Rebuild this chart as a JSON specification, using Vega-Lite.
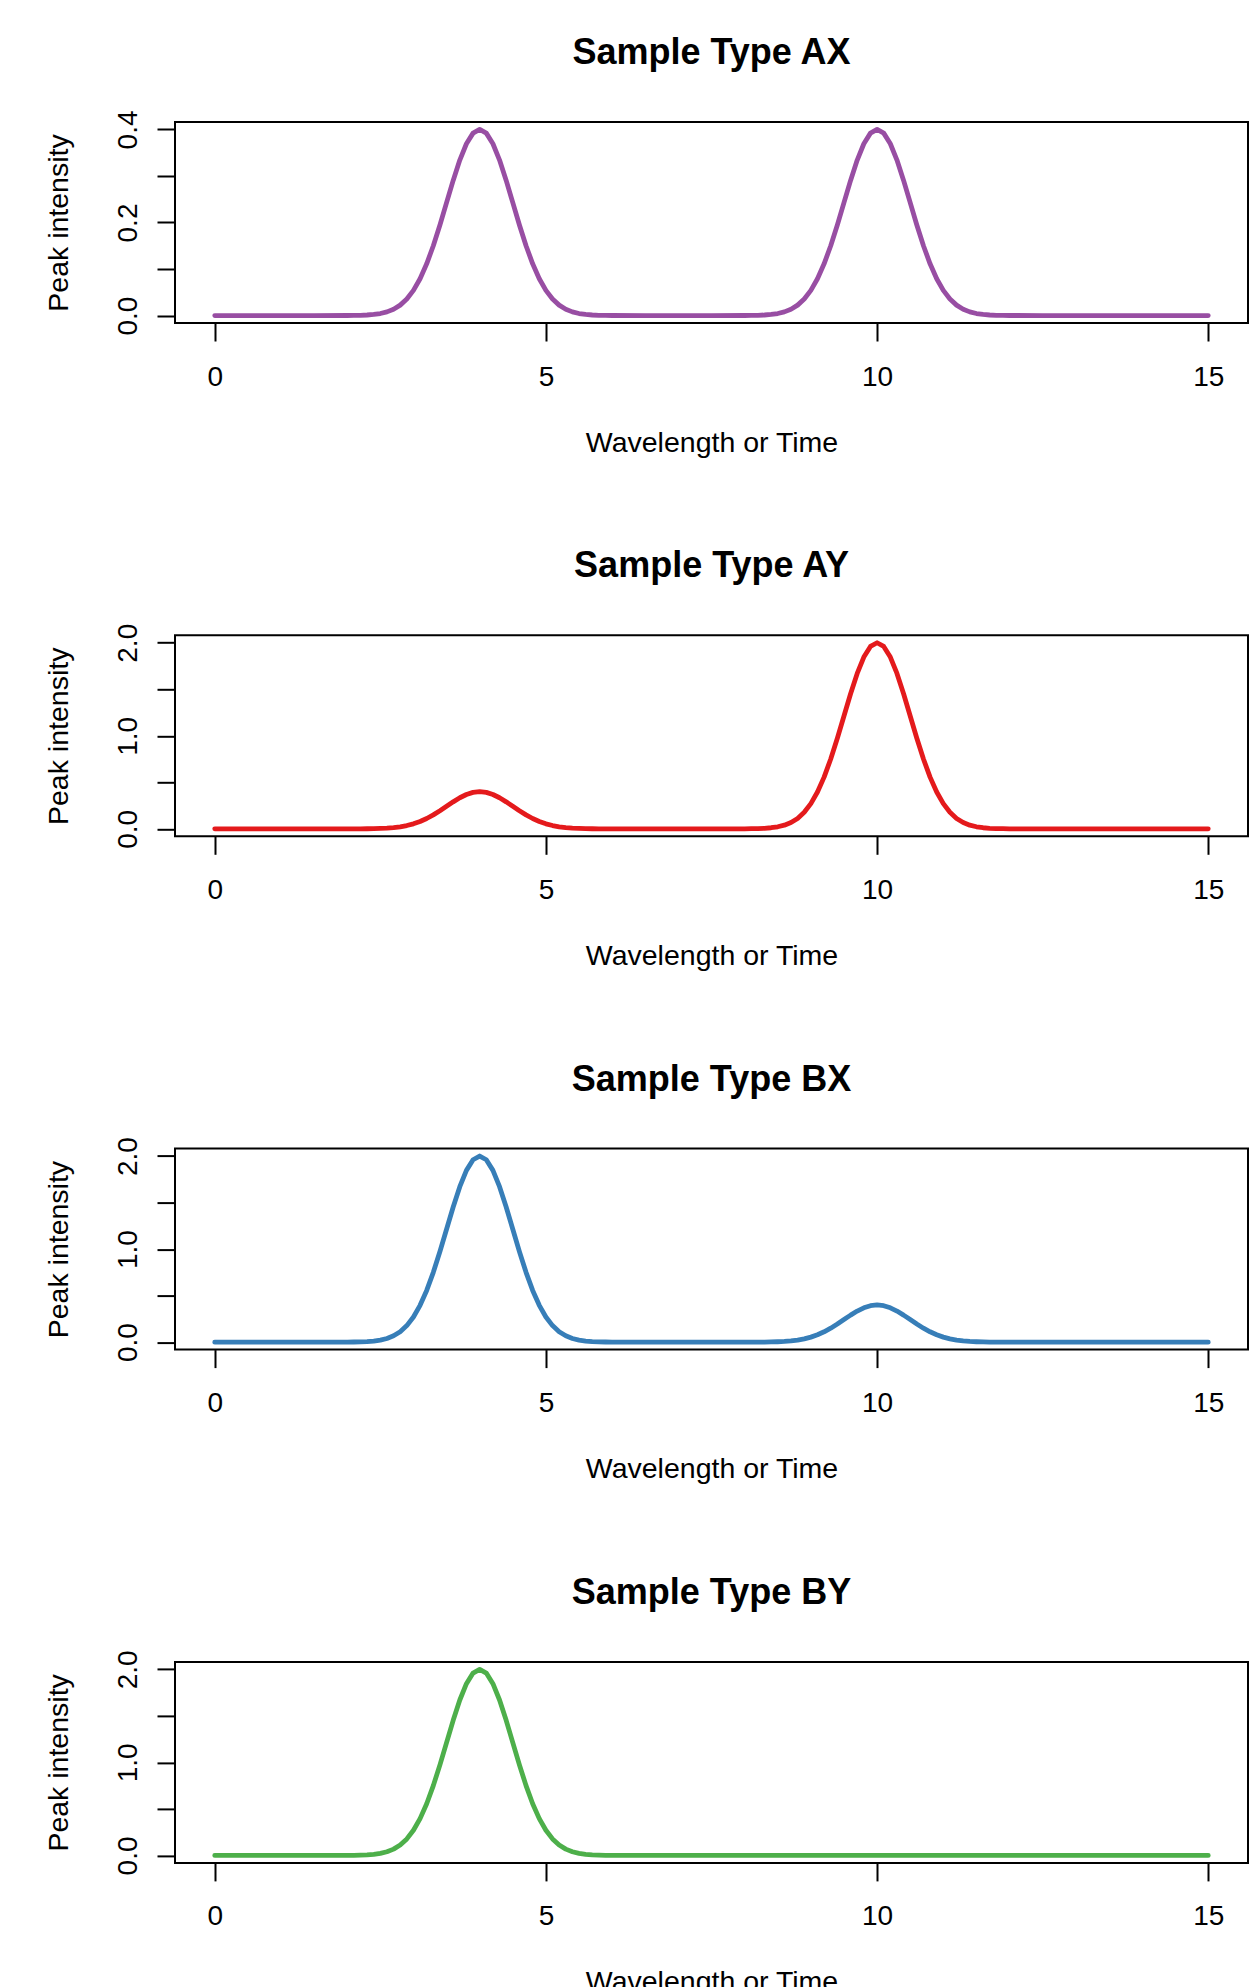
{
  "$schema": "https://vega.github.io/schema/vega-lite/v6.json",
  "background": "white",
  "padding": {"left": 43, "top": 33, "right": 6, "bottom": 0},
  "bounds": "flush",
  "spacing": 312.3,
  "datasets": {
    "peaks": [
      {"x": 0, "AX": 0, "AY": 0, "BX": 0, "BY": 0},
      {"x": 0.5, "AX": 0, "AY": 0, "BX": 0, "BY": 0},
      {"x": 1, "AX": 0, "AY": 0, "BX": 0, "BY": 0},
      {"x": 1.5, "AX": 0, "AY": 0, "BX": 0, "BY": 0},
      {"x": 2.0, "AX": 0.0001, "AY": 0.0001, "BX": 0.0007, "BY": 0.0007},
      {"x": 2.1, "AX": 0.0003, "AY": 0.0003, "BX": 0.0015, "BY": 0.0015},
      {"x": 2.2, "AX": 0.0006, "AY": 0.0006, "BX": 0.0031, "BY": 0.0031},
      {"x": 2.3, "AX": 0.0012, "AY": 0.0012, "BX": 0.0062, "BY": 0.0062},
      {"x": 2.4, "AX": 0.0024, "AY": 0.0024, "BX": 0.0120, "BY": 0.0120},
      {"x": 2.5, "AX": 0.0044, "AY": 0.0044, "BX": 0.0222, "BY": 0.0222},
      {"x": 2.6, "AX": 0.0079, "AY": 0.0079, "BX": 0.0397, "BY": 0.0397},
      {"x": 2.7, "AX": 0.0136, "AY": 0.0136, "BX": 0.0680, "BY": 0.0680},
      {"x": 2.8, "AX": 0.0224, "AY": 0.0224, "BX": 0.1122, "BY": 0.1122},
      {"x": 2.9, "AX": 0.0356, "AY": 0.0356, "BX": 0.1778, "BY": 0.1778},
      {"x": 3.0, "AX": 0.0541, "AY": 0.0541, "BX": 0.2707, "BY": 0.2707},
      {"x": 3.1, "AX": 0.0792, "AY": 0.0792, "BX": 0.3958, "BY": 0.3958},
      {"x": 3.2, "AX": 0.1112, "AY": 0.1112, "BX": 0.5559, "BY": 0.5559},
      {"x": 3.3, "AX": 0.1501, "AY": 0.1501, "BX": 0.7506, "BY": 0.7506},
      {"x": 3.4, "AX": 0.1947, "AY": 0.1947, "BX": 0.9735, "BY": 0.9735},
      {"x": 3.5, "AX": 0.2426, "AY": 0.2426, "BX": 1.2131, "BY": 1.2131},
      {"x": 3.6, "AX": 0.2904, "AY": 0.2904, "BX": 1.4522, "BY": 1.4522},
      {"x": 3.7, "AX": 0.3341, "AY": 0.3341, "BX": 1.6706, "BY": 1.6706},
      {"x": 3.8, "AX": 0.3692, "AY": 0.3692, "BX": 1.8462, "BY": 1.8462},
      {"x": 3.9, "AX": 0.3921, "AY": 0.3921, "BX": 1.9604, "BY": 1.9604},
      {"x": 4.0, "AX": 0.4, "AY": 0.4, "BX": 2.0, "BY": 2.0},
      {"x": 4.1, "AX": 0.3921, "AY": 0.3921, "BX": 1.9604, "BY": 1.9604},
      {"x": 4.2, "AX": 0.3692, "AY": 0.3692, "BX": 1.8462, "BY": 1.8462},
      {"x": 4.3, "AX": 0.3341, "AY": 0.3341, "BX": 1.6706, "BY": 1.6706},
      {"x": 4.4, "AX": 0.2904, "AY": 0.2904, "BX": 1.4522, "BY": 1.4522},
      {"x": 4.5, "AX": 0.2426, "AY": 0.2426, "BX": 1.2131, "BY": 1.2131},
      {"x": 4.6, "AX": 0.1947, "AY": 0.1947, "BX": 0.9735, "BY": 0.9735},
      {"x": 4.7, "AX": 0.1501, "AY": 0.1501, "BX": 0.7506, "BY": 0.7506},
      {"x": 4.8, "AX": 0.1112, "AY": 0.1112, "BX": 0.5559, "BY": 0.5559},
      {"x": 4.9, "AX": 0.0792, "AY": 0.0792, "BX": 0.3958, "BY": 0.3958},
      {"x": 5.0, "AX": 0.0541, "AY": 0.0541, "BX": 0.2707, "BY": 0.2707},
      {"x": 5.1, "AX": 0.0356, "AY": 0.0356, "BX": 0.1778, "BY": 0.1778},
      {"x": 5.2, "AX": 0.0224, "AY": 0.0224, "BX": 0.1122, "BY": 0.1122},
      {"x": 5.3, "AX": 0.0136, "AY": 0.0136, "BX": 0.0680, "BY": 0.0680},
      {"x": 5.4, "AX": 0.0079, "AY": 0.0079, "BX": 0.0397, "BY": 0.0397},
      {"x": 5.5, "AX": 0.0044, "AY": 0.0044, "BX": 0.0222, "BY": 0.0222},
      {"x": 5.6, "AX": 0.0024, "AY": 0.0024, "BX": 0.0120, "BY": 0.0120},
      {"x": 5.7, "AX": 0.0012, "AY": 0.0012, "BX": 0.0062, "BY": 0.0062},
      {"x": 5.8, "AX": 0.0006, "AY": 0.0006, "BX": 0.0031, "BY": 0.0031},
      {"x": 5.9, "AX": 0.0003, "AY": 0.0003, "BX": 0.0015, "BY": 0.0015},
      {"x": 6.0, "AX": 0.0001, "AY": 0.0001, "BX": 0.0007, "BY": 0.0007},
      {"x": 6.5, "AX": 0, "AY": 0, "BX": 0, "BY": 0},
      {"x": 7.0, "AX": 0, "AY": 0, "BX": 0, "BY": 0},
      {"x": 7.5, "AX": 0, "AY": 0, "BX": 0, "BY": 0},
      {"x": 8.0, "AX": 0.0001, "AY": 0.0007, "BX": 0.0001, "BY": 0},
      {"x": 8.1, "AX": 0.0003, "AY": 0.0015, "BX": 0.0003, "BY": 0},
      {"x": 8.2, "AX": 0.0006, "AY": 0.0031, "BX": 0.0006, "BY": 0},
      {"x": 8.3, "AX": 0.0012, "AY": 0.0062, "BX": 0.0012, "BY": 0},
      {"x": 8.4, "AX": 0.0024, "AY": 0.0120, "BX": 0.0024, "BY": 0},
      {"x": 8.5, "AX": 0.0044, "AY": 0.0222, "BX": 0.0044, "BY": 0},
      {"x": 8.6, "AX": 0.0079, "AY": 0.0397, "BX": 0.0079, "BY": 0},
      {"x": 8.7, "AX": 0.0136, "AY": 0.0680, "BX": 0.0136, "BY": 0},
      {"x": 8.8, "AX": 0.0224, "AY": 0.1122, "BX": 0.0224, "BY": 0},
      {"x": 8.9, "AX": 0.0356, "AY": 0.1778, "BX": 0.0356, "BY": 0},
      {"x": 9.0, "AX": 0.0541, "AY": 0.2707, "BX": 0.0541, "BY": 0},
      {"x": 9.1, "AX": 0.0792, "AY": 0.3958, "BX": 0.0792, "BY": 0},
      {"x": 9.2, "AX": 0.1112, "AY": 0.5559, "BX": 0.1112, "BY": 0},
      {"x": 9.3, "AX": 0.1501, "AY": 0.7506, "BX": 0.1501, "BY": 0},
      {"x": 9.4, "AX": 0.1947, "AY": 0.9735, "BX": 0.1947, "BY": 0},
      {"x": 9.5, "AX": 0.2426, "AY": 1.2131, "BX": 0.2426, "BY": 0},
      {"x": 9.6, "AX": 0.2904, "AY": 1.4522, "BX": 0.2904, "BY": 0},
      {"x": 9.7, "AX": 0.3341, "AY": 1.6706, "BX": 0.3341, "BY": 0},
      {"x": 9.8, "AX": 0.3692, "AY": 1.8462, "BX": 0.3692, "BY": 0},
      {"x": 9.9, "AX": 0.3921, "AY": 1.9604, "BX": 0.3921, "BY": 0},
      {"x": 10.0, "AX": 0.4, "AY": 2.0, "BX": 0.4, "BY": 0},
      {"x": 10.1, "AX": 0.3921, "AY": 1.9604, "BX": 0.3921, "BY": 0},
      {"x": 10.2, "AX": 0.3692, "AY": 1.8462, "BX": 0.3692, "BY": 0},
      {"x": 10.3, "AX": 0.3341, "AY": 1.6706, "BX": 0.3341, "BY": 0},
      {"x": 10.4, "AX": 0.2904, "AY": 1.4522, "BX": 0.2904, "BY": 0},
      {"x": 10.5, "AX": 0.2426, "AY": 1.2131, "BX": 0.2426, "BY": 0},
      {"x": 10.6, "AX": 0.1947, "AY": 0.9735, "BX": 0.1947, "BY": 0},
      {"x": 10.7, "AX": 0.1501, "AY": 0.7506, "BX": 0.1501, "BY": 0},
      {"x": 10.8, "AX": 0.1112, "AY": 0.5559, "BX": 0.1112, "BY": 0},
      {"x": 10.9, "AX": 0.0792, "AY": 0.3958, "BX": 0.0792, "BY": 0},
      {"x": 11.0, "AX": 0.0541, "AY": 0.2707, "BX": 0.0541, "BY": 0},
      {"x": 11.1, "AX": 0.0356, "AY": 0.1778, "BX": 0.0356, "BY": 0},
      {"x": 11.2, "AX": 0.0224, "AY": 0.1122, "BX": 0.0224, "BY": 0},
      {"x": 11.3, "AX": 0.0136, "AY": 0.0680, "BX": 0.0136, "BY": 0},
      {"x": 11.4, "AX": 0.0079, "AY": 0.0397, "BX": 0.0079, "BY": 0},
      {"x": 11.5, "AX": 0.0044, "AY": 0.0222, "BX": 0.0044, "BY": 0},
      {"x": 11.6, "AX": 0.0024, "AY": 0.0120, "BX": 0.0024, "BY": 0},
      {"x": 11.7, "AX": 0.0012, "AY": 0.0062, "BX": 0.0012, "BY": 0},
      {"x": 11.8, "AX": 0.0006, "AY": 0.0031, "BX": 0.0006, "BY": 0},
      {"x": 11.9, "AX": 0.0003, "AY": 0.0015, "BX": 0.0003, "BY": 0},
      {"x": 12.0, "AX": 0.0001, "AY": 0.0007, "BX": 0.0001, "BY": 0},
      {"x": 12.5, "AX": 0, "AY": 0, "BX": 0, "BY": 0},
      {"x": 13.0, "AX": 0, "AY": 0, "BX": 0, "BY": 0},
      {"x": 13.5, "AX": 0, "AY": 0, "BX": 0, "BY": 0},
      {"x": 14.0, "AX": 0, "AY": 0, "BX": 0, "BY": 0},
      {"x": 14.5, "AX": 0, "AY": 0, "BX": 0, "BY": 0},
      {"x": 15.0, "AX": 0, "AY": 0, "BX": 0, "BY": 0}
    ]
  },
  "vconcat": [
    {
      "width": 1073, "height": 201,
      "title": {"text": "Sample Type AX"},
      "data": {"name": "peaks"},
      "mark": {"type": "line", "color": "#984EA3", "strokeWidth": 4.8, "strokeCap": "round", "strokeJoin": "round"},
      "encoding": {
        "x": {"field": "x", "type": "quantitative", "scale": {"domain": [-0.6, 15.6], "nice": false, "zero": false}, "axis": {"values": [0, 5, 10, 15], "format": "d", "title": "Wavelength or Time"}},
        "y": {"field": "AX", "type": "quantitative", "scale": {"domain": [-0.016, 0.416], "nice": false, "zero": false}, "axis": {"values": [0, 0.1, 0.2, 0.3, 0.4], "labelExpr": "round(datum.value*10) % 2 == 0 ? format(datum.value, '.1f') : ''", "title": "Peak intensity"}}
      }
    },
    {
      "width": 1073, "height": 201,
      "title": {"text": "Sample Type AY"},
      "data": {"name": "peaks"},
      "mark": {"type": "line", "color": "#E41A1C", "strokeWidth": 4.8, "strokeCap": "round", "strokeJoin": "round"},
      "encoding": {
        "x": {"field": "x", "type": "quantitative", "scale": {"domain": [-0.6, 15.6], "nice": false, "zero": false}, "axis": {"values": [0, 5, 10, 15], "format": "d", "title": "Wavelength or Time"}},
        "y": {"field": "AY", "type": "quantitative", "scale": {"domain": [-0.08, 2.08], "nice": false, "zero": false}, "axis": {"values": [0, 0.5, 1, 1.5, 2], "labelExpr": "round(datum.value*10) % 10 == 0 ? format(datum.value, '.1f') : ''", "title": "Peak intensity"}}
      }
    },
    {
      "width": 1073, "height": 201,
      "title": {"text": "Sample Type BX"},
      "data": {"name": "peaks"},
      "mark": {"type": "line", "color": "#377EB8", "strokeWidth": 4.8, "strokeCap": "round", "strokeJoin": "round"},
      "encoding": {
        "x": {"field": "x", "type": "quantitative", "scale": {"domain": [-0.6, 15.6], "nice": false, "zero": false}, "axis": {"values": [0, 5, 10, 15], "format": "d", "title": "Wavelength or Time"}},
        "y": {"field": "BX", "type": "quantitative", "scale": {"domain": [-0.08, 2.08], "nice": false, "zero": false}, "axis": {"values": [0, 0.5, 1, 1.5, 2], "labelExpr": "round(datum.value*10) % 10 == 0 ? format(datum.value, '.1f') : ''", "title": "Peak intensity"}}
      }
    },
    {
      "width": 1073, "height": 201,
      "title": {"text": "Sample Type BY"},
      "data": {"name": "peaks"},
      "mark": {"type": "line", "color": "#4DAF4A", "strokeWidth": 4.8, "strokeCap": "round", "strokeJoin": "round"},
      "encoding": {
        "x": {"field": "x", "type": "quantitative", "scale": {"domain": [-0.6, 15.6], "nice": false, "zero": false}, "axis": {"values": [0, 5, 10, 15], "format": "d", "title": "Wavelength or Time"}},
        "y": {"field": "BY", "type": "quantitative", "scale": {"domain": [-0.08, 2.08], "nice": false, "zero": false}, "axis": {"values": [0, 0.5, 1, 1.5, 2], "labelExpr": "round(datum.value*10) % 10 == 0 ? format(datum.value, '.1f') : ''", "title": "Peak intensity"}}
      }
    }
  ],
  "config": {
    "view": {"stroke": "black", "strokeWidth": 2},
    "title": {"font": "Liberation Sans", "fontSize": 36, "fontWeight": "bold", "color": "black", "anchor": "middle", "frame": "group", "baseline": "alphabetic", "offset": 38},
    "axis": {
      "domain": false, "grid": false, "tickSize": 18, "tickWidth": 2, "tickColor": "black",
      "labelFont": "Liberation Sans", "labelFontSize": 28, "labelColor": "black", "labelFlush": false, "labelOverlap": false,
      "titleFont": "Liberation Sans", "titleFontSize": 28.5, "titleFontWeight": "normal", "titleColor": "black"
    },
    "axisX": {"labelPadding": 44, "labelBaseline": "alphabetic", "labelAngle": 0, "titleBaseline": "alphabetic", "titleAlign": "center", "titleX": 536.5, "titleY": 128},
    "axisY": {"labelAngle": 270, "labelAlign": "center", "labelBaseline": "alphabetic", "labelPadding": 21, "titleAngle": 270, "titleAlign": "center", "titleBaseline": "alphabetic", "titleX": -108, "titleY": 100.5}
  }
}
